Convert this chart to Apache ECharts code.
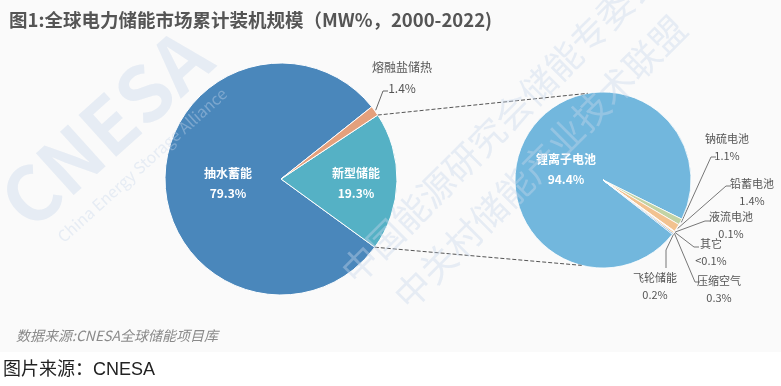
<!DOCTYPE html>
<html><head><meta charset="utf-8">
<script src="https://cdn.jsdelivr.net/npm/echarts@6/dist/echarts.min.js"></script>
<style>html,body{margin:0;padding:0;background:#fff}#c{width:781px;height:386px}</style>
</head><body><div id="c"></div>
<script>
// ---- data ----
const leftNames = ['抽水蓄能', '新型储能', '熔融盐储热'];
const leftValues = [79.3, 19.3, 1.4];
const leftLabels = ['79.3%', '19.3%', '1.4%'];
const rightNames = ['锂离子电池', '钠硫电池', '铅蓄电池', '液流电池', '其它', '压缩空气', '飞轮储能'];
const rightValues = [94.4, 1.1, 1.4, 0.1, 0.05, 0.3, 0.2];
const rightLabels = ['94.4%', '1.1%', '1.4%', '0.1%', '<0.1%', '0.3%', '0.2%'];
const titleText = '图1:全球电力储能市场累计装机规模（MW%，2000-2022)';
const sourceText = '数据来源:CNESA全球储能项目库';
const footText = '图片来源：CNESA';

// ---- styles / layout ----
const FONT = '"Noto Sans CJK SC", "Noto Sans", sans-serif';
const leftColors = ['#4a87bb', '#55b1c5', '#e4a07c'];
const rightColors = ['#72b7dd', '#c2d3a4', '#f2c28f', '#e9a3a6', '#d9c9e0', '#f4c896', '#4d8ec8'];
const L = {cx: 281, cy: 179, r: 116, start: 38.5};
const R = {cx: 603, cy: 180, r: 88, start: 322};
const leftLabelLayout = [
  {x: 228, y: 183},
  {x: 356, y: 183},
  {x: 402, y: 78, line: [[383, 91], [388, 91]]}
];
const rightLabelLayout = [
  {x: 566, y: 169},
  {x: 727, y: 147, line: [[711, 157], [716, 157]]},
  {x: 752, y: 192, line: [[726, 186], [731, 186]]},
  {x: 731, y: 225, line: [[705, 221], [711, 221]]},
  {x: 711, y: 252, line: [[694, 247], [699, 247]]},
  {x: 719, y: 289, line: [[695, 282], [700, 282]]},
  {x: 655, y: 286, line: [[666, 250], [666, 268]]}
];

const sum = a => a.reduce((s, v) => s + v, 0);
function pt(c, ang, rr) {
  const a = ang * Math.PI / 180, r = rr == null ? c.r : rr;
  return [c.cx + r * Math.cos(a), c.cy - r * Math.sin(a)];
}
const leftEdges = []; let acc = L.start;
leftValues.forEach(v => { const a0 = acc; acc += v / sum(leftValues) * 360; leftEdges.push([a0, acc]); });
const rightEdges = []; acc = R.start;
rightValues.forEach(v => { const a0 = acc; acc -= v / sum(rightValues) * 360; rightEdges.push([a0, acc]); });
const mid = e => (e[0] + e[1]) / 2;

const insideLabel = {position: 'inside', color: '#fff', fontWeight: 'bold', fontSize: 12, lineHeight: 20, fontFamily: FONT};

function makeLayout(layout, c, edges) {
  return function (p) {
    const o = layout[p.dataIndex];
    const res = {x: o.x, y: o.y, align: 'center', verticalAlign: 'middle'};
    if (o.line) res.labelLinePoints = [pt(c, mid(edges[p.dataIndex]), c.r + 1), o.line[0], o.line[1]];
    return res;
  };
}

const wmStyle = (text, size, weight) => ({text: text, font: weight + ' ' + size + 'px ' + FONT,
  fill: 'rgba(200,214,235,0.4)', align: 'center', verticalAlign: 'middle'});

const a1 = pt(L, leftEdges[1][1]), a2 = pt(L, leftEdges[1][0]);
const b1 = pt(R, 100), b2 = pt(R, -104);

const chart = echarts.init(document.getElementById('c'));
chart.setOption({
  animation: false,
  backgroundColor: '#fff',
  title: {text: titleText, left: 4, top: 6,
    textStyle: {fontSize: 18.5, fontWeight: 'bold', color: '#555', fontFamily: FONT}},
  graphic: [
    {type: 'rect', z: -100, shape: {x: 0, y: 0, width: 781, height: 352}, style: {fill: '#fafafa'}},
    {type: 'line', z: 50, shape: {x1: a1[0], y1: a1[1], x2: b1[0], y2: b1[1]},
      style: {stroke: '#555', lineWidth: 1, lineDash: [4, 2]}},
    {type: 'line', z: 50, shape: {x1: a2[0], y1: a2[1], x2: b2[0], y2: b2[1]},
      style: {stroke: '#555', lineWidth: 1, lineDash: [4, 2]}},
    {type: 'text', z: 100, x: 105, y: 128, rotation: 42 * Math.PI / 180, style: wmStyle('CNESA', 76, 'bold')},
    {type: 'text', z: 100, x: 142, y: 165, rotation: 42 * Math.PI / 180, style: wmStyle('China Energy Storage Alliance', 16, 'normal')},
    {type: 'text', z: 100, x: 500, y: 124, rotation: 45 * Math.PI / 180, style: wmStyle('中国能源研究会储能专委会', 36, 'normal')},
    {type: 'text', z: 100, x: 540, y: 162, rotation: 45 * Math.PI / 180, style: wmStyle('中关村储能产业技术联盟', 36, 'normal')},
    {type: 'text', z: 60, left: 16, top: 329, style: {text: sourceText, font: 'italic 14px ' + FONT, fill: '#8a8a8a'}},
    {type: 'text', z: 60, left: 3, top: 361, style: {text: footText, font: '18px "Liberation Sans", ' + FONT, fill: '#222'}}
  ],
  series: [
    {
      type: 'pie', center: [L.cx, L.cy], radius: L.r, startAngle: L.start, clockwise: false,
      avoidLabelOverlap: false, silent: true,
      itemStyle: {borderColor: '#fff', borderWidth: 1},
      label: {show: true, formatter: p => p.name + '\n' + leftLabels[p.dataIndex]},
      labelLine: {show: true, lineStyle: {color: '#666', width: 1}},
      labelLayout: makeLayout(leftLabelLayout, L, leftEdges),
      data: leftNames.map((n, i) => ({
        name: n, value: leftValues[i], itemStyle: {color: leftColors[i]},
        label: i < 2 ? insideLabel : {position: 'outside', color: '#555', fontSize: 12, lineHeight: 21, fontFamily: FONT},
        labelLine: {show: i >= 2}
      }))
    },
    {
      type: 'pie', center: [R.cx, R.cy], radius: R.r, startAngle: R.start, clockwise: true,
      avoidLabelOverlap: false, silent: true,
      itemStyle: {borderColor: '#fff', borderWidth: 0.8},
      label: {show: true, formatter: p => p.name + '\n' + rightLabels[p.dataIndex]},
      labelLine: {show: true, lineStyle: {color: '#777', width: 1}},
      labelLayout: makeLayout(rightLabelLayout, R, rightEdges),
      data: rightNames.map((n, i) => ({
        name: n, value: rightValues[i], itemStyle: {color: rightColors[i]},
        label: i < 1 ? insideLabel : {position: 'outside', color: '#555', fontSize: 11, lineHeight: 17, fontFamily: FONT},
        labelLine: {show: i >= 1}
      }))
    }
  ]
});
</script></body></html>
